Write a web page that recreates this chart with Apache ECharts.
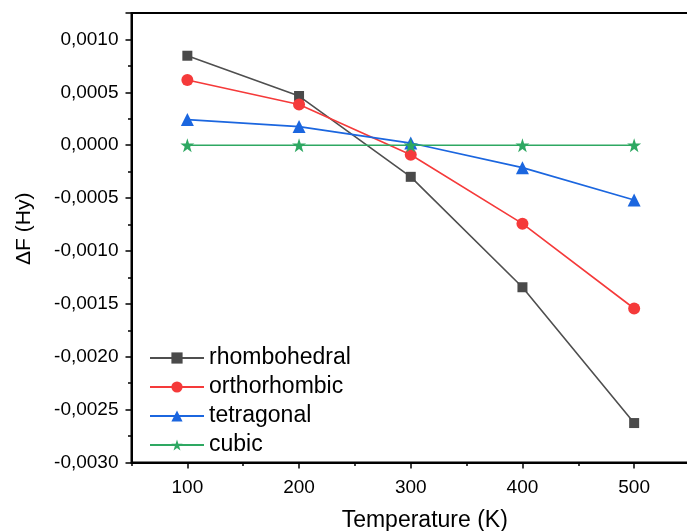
<!DOCTYPE html>
<html>
<head>
<meta charset="utf-8">
<script src="https://cdn.jsdelivr.net/npm/echarts@6/dist/echarts.min.js"></script>
<style>
  html, body { margin: 0; padding: 0; background: #fff; }
  #chart { width: 687px; height: 531px; }
</style>
</head>
<body>
<div id="chart"></div>
<script>
// Free-energy difference of each phase relative to cubic, vs temperature
const temperatures = [100, 200, 300, 400, 500];
const rhombohedral = [0.000846, 0.000465, -0.000299, -0.001343, -0.002627];
const orthorhombic = [0.000616, 0.000384, -0.000090, -0.000742, -0.001544];
const tetragonal   = [0.000242, 0.000176, 0.000020, -0.000212, -0.000519];
const cubic        = [0.0, 0.0, 0.0, 0.0, 0.0];
const xTicks = [100, 200, 300, 400, 500];

const FONT = 'Liberation Sans, Arial, sans-serif';

function pairs(vals) {
  return temperatures.map((t, i) => [t, vals[i]]);
}

function fmtY(v) {
  // only label multiples of 0.0005, with comma decimals
  if (Math.abs(v * 2000 - Math.round(v * 2000)) > 1e-6) return '';
  return (Math.abs(v) < 1e-12 ? 0 : v).toFixed(4).replace('.', ',');
}

const STAR = 'path://M50,0 L61.8,36.2 L100,36.2 L69.1,58.8 L80.9,95.1 L50,72.7 L19.1,95.1 L30.9,58.8 L0,36.2 L38.2,36.2 Z';

const chart = echarts.init(document.getElementById('chart'), null, { renderer: 'canvas' });

function lineSeries(name, vals, color, symbol, size, lineColor) {
  return {
    name: name,
    type: 'line',
    data: pairs(vals),
    symbol: symbol,
    symbolSize: size,
    showSymbol: true,
    itemStyle: { color: color },
    lineStyle: { color: lineColor || color, width: 1.6 },
    emphasis: { disabled: true },
    z: 3
  };
}

chart.setOption({
  animation: false,
  backgroundColor: '#ffffff',
  textStyle: { fontFamily: FONT },
  grid: {
    left: 131.5, right: -3, top: 13, bottom: 68.5,
    outerBoundsMode: 'none',
    containLabel: false,
    show: true, borderColor: '#000', borderWidth: 2, backgroundColor: 'transparent'
  },
  legend: {
    orient: 'vertical',
    left: 149,
    top: 346,
    padding: 0,
    itemWidth: 54,
    itemHeight: 14,
    itemGap: 5,
    textStyle: { fontFamily: FONT, fontSize: 23, color: '#000', lineHeight: 24 },
    data: ['rhombohedral', 'orthorhombic', 'tetragonal', 'cubic']
  },
  xAxis: [
    {
      type: 'value',
      min: 50, max: 550,
      name: 'Temperature (K)',
      nameLocation: 'middle',
      nameGap: 47,
      nameTextStyle: { fontFamily: FONT, fontSize: 23, color: '#000', padding: [0, 0, 0, 28] },
      axisLine: { show: true, onZero: false, lineStyle: { color: '#000', width: 2 } },
      axisTick: { show: true, inside: false, length: 6, lineStyle: { color: '#000', width: 1.5 }, customValues: xTicks },
      axisLabel: { show: true, margin: 16, fontSize: 19, color: '#000', fontFamily: FONT, customValues: xTicks },
      splitLine: { show: false }
    },
    {
      // minor ticks every 50 K
      type: 'value',
      position: 'bottom',
      min: 50, max: 550, interval: 50,
      axisLine: { show: false, onZero: false },
      axisTick: { show: true, inside: false, length: 3.5, lineStyle: { color: '#000', width: 1.5 } },
      axisLabel: { show: false },
      splitLine: { show: false }
    }
  ],
  yAxis: [
    {
      type: 'value',
      min: -0.003, max: 0.00125, interval: 0.0005,
      name: 'ΔF (Hy)',
      nameLocation: 'middle',
      nameRotate: 90,
      nameGap: 97,
      nameTextStyle: { fontFamily: FONT, fontSize: 21, color: '#000', padding: [0, 0, 0, 18] },
      axisLine: { show: true, onZero: false, lineStyle: { color: '#000', width: 2 } },
      axisTick: { show: true, inside: false, length: 6, lineStyle: { color: '#000', width: 1.5 } },
      axisLabel: { show: true, margin: 13, fontSize: 19, color: '#000', fontFamily: FONT, formatter: fmtY },
      splitLine: { show: false }
    },
    {
      // minor ticks every 0.00025
      type: 'value',
      position: 'left',
      min: -0.003, max: 0.00125, interval: 0.00025,
      axisLine: { show: false, onZero: false },
      axisTick: { show: true, inside: false, length: 3.5, lineStyle: { color: '#000', width: 1.5 } },
      axisLabel: { show: false },
      splitLine: { show: false }
    }
  ],
  series: [
    lineSeries('rhombohedral', rhombohedral, '#4a4a4a', 'rect', 10, '#4f4f4f'),
    lineSeries('orthorhombic', orthorhombic, '#f53a3a', 'circle', 12),
    lineSeries('tetragonal', tetragonal, '#1b66df', 'triangle', 13),
    lineSeries('cubic', cubic, '#2ea862', STAR, 14)
  ]
});
</script>
</body>
</html>
